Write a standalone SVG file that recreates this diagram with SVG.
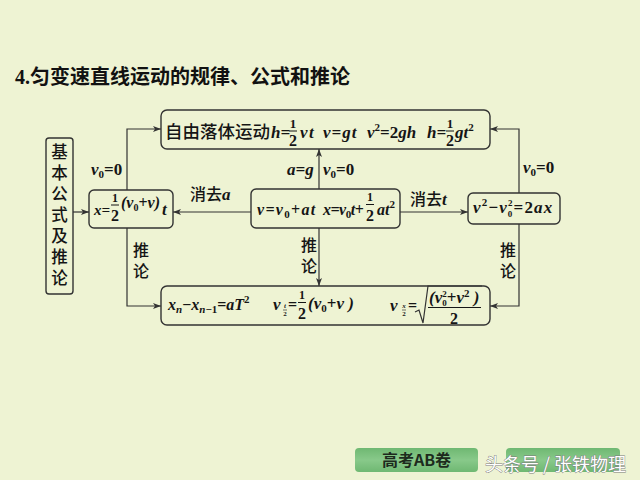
<svg xmlns="http://www.w3.org/2000/svg" width="640" height="480" viewBox="0 0 640 480">
<style>
.cn{font-family:"Noto Sans CJK SC","Noto Sans CJK JP",sans-serif;font-size:16px;fill:#151515;font-weight:500}
.m{font-family:"Liberation Serif",serif;font-weight:bold;font-style:italic;font-size:17px;fill:#151515}
.n{font-family:"Liberation Serif",serif;font-weight:bold;font-style:normal;fill:#151515}
.s{font-size:11px;font-style:normal}
.si{font-size:11px;font-style:italic}
.t{font-size:7px}
.box{fill:#EEF3D3;stroke:#333;stroke-width:1.4}
.ln{fill:none;stroke:#333;stroke-width:1.2}
.bar{stroke:#151515;stroke-width:1}
.conn path{fill:none;stroke:#333;stroke-width:1.2;marker-end:url(#ah)}
.wm{font-family:"Noto Sans CJK SC",sans-serif;font-size:18px;fill:#fff;stroke:#7a7a7a;stroke-width:0.8;paint-order:stroke}
.vc{font-size:16.5px}
</style>
<defs>
<marker id="ah" markerUnits="userSpaceOnUse" markerWidth="9" markerHeight="6" refX="8" refY="3" orient="auto">
<path d="M0,0 L8,3 L0,6 L2,3 z" fill="#333"/>
</marker>
<linearGradient id="btn" x1="0" y1="0" x2="0" y2="1">
<stop offset="0" stop-color="#6fb872"/>
<stop offset="0.5" stop-color="#88c98a"/>
<stop offset="1" stop-color="#6fb872"/>
</linearGradient>
</defs>
<rect width="640" height="480" fill="#EEF3D3"/>
<text x="15" y="84" font-family="Liberation Serif,serif" font-weight="bold" font-size="20" fill="#111">4.<tspan font-family="Noto Sans CJK SC,sans-serif" font-size="20">匀变速直线运动的规律、公式和推论</tspan></text>

<g class="conn">
<path d="M73,212 H89"/>
<path d="M127,190 V129 H161"/>
<path d="M127,228 V306 H161"/>
<path d="M319,189 V149"/>
<path d="M319,228 V286"/>
<path d="M251,212 H173"/>
<path d="M400,212 H468"/>
<path d="M519,193 V129 H490"/>
<path d="M519,224 V306 H490"/>
</g>

<g id="labels">
<text class="m" x="91" y="175">v<tspan class="s" dy="3">0</tspan><tspan class="n" dy="-3">=0</tspan></text>
<text class="cn" x="190" y="200">消去<tspan class="m">a</tspan></text>
<text class="m" x="287" y="175">a=g</text>
<text class="m" x="323" y="175">v<tspan class="s" dy="3">0</tspan><tspan class="n" dy="-3">=0</tspan></text>
<text class="cn" x="410" y="205">消去<tspan class="m">t</tspan></text>
<text class="m" x="523" y="173">v<tspan class="s" dy="3">0</tspan><tspan class="n" dy="-3">=0</tspan></text>
<text class="cn" x="141" y="256" text-anchor="middle">推</text>
<text class="cn" x="141" y="277" text-anchor="middle">论</text>
<text class="cn" x="309" y="251" text-anchor="middle">推</text>
<text class="cn" x="309" y="272" text-anchor="middle">论</text>
<text class="cn" x="508" y="256" text-anchor="middle">推</text>
<text class="cn" x="508" y="277" text-anchor="middle">论</text>
</g>

<g id="node-basic">
<rect class="box" x="46" y="138" width="27" height="156" rx="3"/>
<text class="cn vc" x="59.5" y="158" text-anchor="middle">基</text>
<text class="cn vc" x="59.5" y="179" text-anchor="middle">本</text>
<text class="cn vc" x="59.5" y="200" text-anchor="middle">公</text>
<text class="cn vc" x="59.5" y="221" text-anchor="middle">式</text>
<text class="cn vc" x="59.5" y="242" text-anchor="middle">及</text>
<text class="cn vc" x="59.5" y="263" text-anchor="middle">推</text>
<text class="cn vc" x="59.5" y="284" text-anchor="middle">论</text>
</g>

<g id="node-freefall">
<rect class="box" x="161" y="110" width="329" height="39" rx="6"/>
<text class="cn" style="font-size:17.5px" x="165" y="138">自由落体运动</text>
<text class="m" x="271" y="138">h=</text>
<text class="n" font-size="13" x="293" y="128" text-anchor="middle">1</text>
<line class="bar" x1="289" y1="131" x2="297" y2="131"/>
<text class="n" font-size="16" x="293" y="146" text-anchor="middle">2</text>
<text class="m" x="300" y="138" letter-spacing="1.5">vt</text>
<text class="m" x="323" y="138" letter-spacing="1">v=gt</text>
<text class="m" x="367" y="138">v<tspan class="s" dy="-7">2</tspan><tspan class="n" dy="7">=2</tspan>gh</text>
<text class="m" x="427" y="138">h=</text>
<text class="n" font-size="13" x="450" y="128" text-anchor="middle">1</text>
<line class="bar" x1="446" y1="131" x2="454" y2="131"/>
<text class="n" font-size="16" x="450" y="146" text-anchor="middle">2</text>
<text class="m" x="455" y="138">gt<tspan class="s" dy="-7">2</tspan></text>
</g>

<g id="node-avg">
<rect class="box" x="89" y="190" width="84" height="38" rx="5"/>
<text class="m" style="font-size:15px" x="94" y="215">x=</text>
<text class="n" font-size="12" x="115" y="202" text-anchor="middle">1</text>
<line class="bar" x1="111" y1="205" x2="119" y2="205"/>
<text class="n" font-size="16" x="115" y="221" text-anchor="middle">2</text>
<text class="m" style="font-size:16px" x="121" y="208">(v<tspan class="s" style="font-size:10px" dy="3">0</tspan><tspan class="n" dy="-3">+</tspan>v)</text>
<text class="m" x="162" y="215">t</text>
</g>

<g id="node-basic-eq">
<rect class="box" x="251" y="189" width="149" height="39" rx="5"/>
<text class="m" style="font-size:16px" x="257" y="215" letter-spacing="1.3">v=v<tspan class="s" dy="3">0</tspan><tspan class="n" dy="-3">+</tspan>at</text>
<text class="m" style="font-size:16px" x="323" y="215" letter-spacing="-0.5">x=v<tspan class="s" dy="3">0</tspan><tspan dy="-3">t</tspan><tspan class="n">+</tspan></text>
<text class="n" font-size="12" x="370" y="201" text-anchor="middle">1</text>
<line class="bar" x1="366" y1="204.5" x2="374" y2="204.5"/>
<text class="n" font-size="16" x="370" y="221" text-anchor="middle">2</text>
<text class="m" style="font-size:16px" x="377" y="215">at<tspan class="s" dy="-7">2</tspan></text>
</g>

<g id="node-disp">
<rect class="box" x="468" y="193" width="92" height="31" rx="5"/>
<text class="m" style="font-size:17px" x="473" y="213" letter-spacing="1.2">v<tspan class="s" dy="-7">2</tspan><tspan class="n" dy="7">−</tspan>v<tspan class="s" style="font-size:9px" dy="-7">2</tspan><tspan class="s" style="font-size:9px" dx="-6" dy="11">0</tspan><tspan class="n" dy="-4">=2</tspan>ax</text>
</g>

<g id="node-inference">
<rect class="box" x="161" y="286" width="329" height="39" rx="6"/>
<text class="m" style="font-size:16px" x="168" y="310">x<tspan class="si" dy="3">n</tspan><tspan class="n" dy="-3">−</tspan>x<tspan class="s" dy="3"><tspan class="si">n</tspan>−1</tspan><tspan class="n" dy="-3">=</tspan>aT<tspan class="s" dy="-7">2</tspan></text>
<text class="m" x="273" y="310">v</text>
<text class="m t" x="285" y="308" text-anchor="middle">t</text>
<line x1="283" y1="310" x2="287" y2="310" stroke="#151515" stroke-width="0.6"/>
<text class="n t" x="285" y="316" text-anchor="middle">2</text>
<text class="n" font-size="16" x="288" y="310">=</text>
<text class="n" font-size="12" x="302" y="299" text-anchor="middle">1</text>
<line class="bar" x1="298" y1="302.5" x2="306" y2="302.5"/>
<text class="n" font-size="16" x="302" y="319" text-anchor="middle">2</text>
<text class="m" x="308" y="309">(v<tspan class="s" dy="3">0</tspan><tspan class="n" dy="-3">+</tspan>v )</text>
<text class="m" x="390" y="311">v</text>
<text class="m t" x="404" y="308" text-anchor="middle">x</text>
<line x1="402" y1="310" x2="406" y2="310" stroke="#151515" stroke-width="0.6"/>
<text class="n t" x="404" y="316" text-anchor="middle">2</text>
<text class="n" font-size="16" x="408" y="311">=</text>
<path class="ln" d="M415,312 L419,310 L423,323 L428,286 L482,286"/>
<text class="m" x="429" y="303">(v<tspan class="s" style="font-size:9px" dy="-6">2</tspan><tspan class="s" style="font-size:9px" dx="-4.5" dy="9">0</tspan><tspan class="n" dy="-3">+</tspan>v<tspan class="s" dy="-6">2</tspan><tspan dy="6"> )</tspan></text>
<line class="bar" x1="428" y1="307.5" x2="481" y2="307.5"/>
<text class="n" font-size="16" x="454" y="324" text-anchor="middle">2</text>
</g>

<g id="buttons">
<rect x="355" y="448" width="123" height="24" rx="4" fill="url(#btn)"/>
<text x="416.5" y="466" text-anchor="middle" font-family="Noto Sans CJK SC,sans-serif" font-weight="bold" font-size="16" fill="#1d2b1d">高考AB卷</text>
<rect x="506" y="448" width="114" height="24" rx="4" fill="url(#btn)"/>
<text class="wm" x="485" y="471">头条号 / 张铁物理</text>
</g>
</svg>
